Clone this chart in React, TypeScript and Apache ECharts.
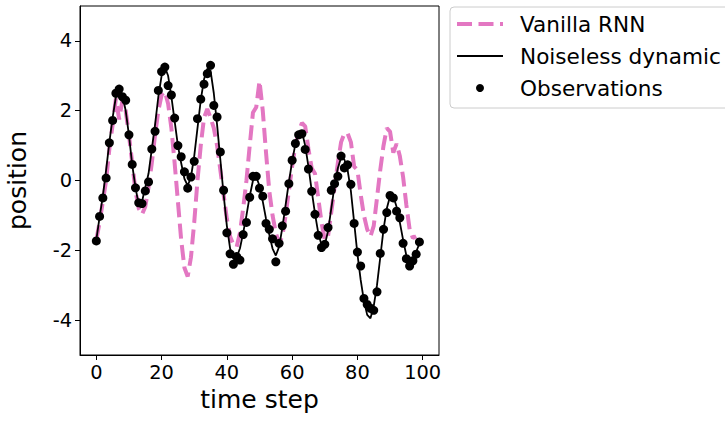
import React, { useEffect, useRef } from "react";
import * as echarts from "echarts";

const observations = [
  -1.73, -1.03, -0.5, 0.07, 1.08, 1.72, 2.5, 2.62, 2.4, 2.3,
  1.31, 0.46, -0.21, -0.64, -0.66, -0.3, -0.04, 0.9, 1.41, 2.58,
  3.12, 3.25, 2.72, 2.45, 1.79, 1.0, 0.68, 0.25, -0.22, 0.1,
  0.55, 1.77, 2.33, 2.76, 3.06, 3.3, 2.15, 1.82, 0.82, -0.28,
  -1.5, -2.1, -2.4, -2.18, -2.28, -1.55, -1.2, -0.48, 0.12, 0.12,
  -0.22, -0.45, -1.23, -1.4, -1.67, -2.33, -1.8, -1.3, -0.88, -0.09,
  0.58, 1.06, 1.31, 1.34, 0.89, 0.33, -0.31, -0.97, -1.57, -1.92,
  -1.83, -1.35, -0.28, -0.09, 0.12, 0.7, 0.36, 0.45, -0.11, -1.23,
  -2.05, -2.45, -3.38, -3.55, -3.66, -3.72, -3.19, -2.09, -1.4, -0.92,
  -0.43, -0.5, -0.88, -1.07, -1.8, -2.24, -2.45, -2.3, -2.11, -1.76,
];

const noiseless = [
  -1.7, -1.05, -0.45, 0.3, 1.1, 1.8, 2.4, 2.65, 2.45, 2.0,
  1.3, 0.45, -0.2, -0.7, -0.6, -0.2, 0.2, 0.9, 1.6, 2.4,
  3.0, 3.25, 3.0, 2.4, 1.7, 1.0, 0.5, 0.05, -0.15, 0.1,
  0.7, 1.5, 2.3, 2.9, 3.2, 3.15, 2.5, 1.6, 0.6, -0.4,
  -1.3, -1.95, -2.25, -2.2, -1.95, -1.5, -1.0, -0.45, 0.0, 0.1,
  -0.15, -0.6, -1.1, -1.55, -1.95, -2.15, -1.9, -1.35, -0.7, -0.05,
  0.55, 1.05, 1.35, 1.4, 1.0, 0.4, -0.3, -0.95, -1.5, -1.85,
  -1.85, -1.45, -0.8, -0.15, 0.35, 0.65, 0.6, 0.3, -0.3, -1.2,
  -2.1, -2.85, -3.45, -3.85, -3.95, -3.6, -3.0, -2.2, -1.4, -0.8,
  -0.45, -0.45, -0.75, -1.2, -1.7, -2.15, -2.35, -2.3, -2.05, -1.8,
];

const vanillaRnn = [
  -1.7, -1.2, -0.6, 0.0, 0.9, 1.6, 2.35, 1.75, 2.3, 2.0,
  1.3, 0.5, -0.3, -0.8, -0.97, -0.75, -0.2, 0.5, 1.3, 2.0,
  2.45, 2.55, 2.2, 1.5, 0.5, -0.6, -1.7, -2.5, -2.75, -2.2,
  -1.2, 0.0, 1.0, 1.8, 2.05, 1.8, 1.5, 1.0, 0.3, -0.4,
  -1.1, -1.6, -1.85, -1.9, -1.5, -0.8, 0.0, 1.0, 1.95, 2.1,
  2.85, 2.0, 0.8, -0.3, -1.0, -1.5, -1.8, -1.6, -1.0, -0.3,
  0.4, 1.0, 1.4, 1.65, 1.55, 0.9, 0.35, 0.2, -0.5, -1.2,
  -1.7, -1.6, -0.9, -0.2, 0.5, 1.1, 1.35, 1.35, 1.1, 0.4,
  0.3, -0.4, -1.0, -1.4, -1.6, -1.3, -0.5, 0.3, 1.0, 1.5,
  1.4, 0.8, 1.05, 0.7, 0.1, -0.7, -1.4, -1.65, -1.6,
];

const xTicks = [0, 20, 40, 60, 80, 100];
const yTicks = [-4, -2, 0, 2, 4];
const legendNames = ["Vanilla RNN", "Noiseless dynamic", "Observations"];

const FONT = "DejaVu Sans";
const PINK = "#e377c2";

export default function App() {
  const ref = useRef<HTMLDivElement>(null);
  useEffect(() => {
    if (!ref.current) return;
    const chart = echarts.init(ref.current, null, { renderer: "svg" });
    const pair = (arr: number[]) => arr.map((v, i) => [i, v]);
    const legendRowY = [24, 56, 88];
    chart.setOption({
      animation: false,
      backgroundColor: "#fff",
      textStyle: { fontFamily: FONT },
      grid: {
        left: 80,
        top: 6,
        right: 286,
        bottom: 66,
        show: true,
        borderColor: "#000",
        borderWidth: 1,
        containLabel: false,
      },
      xAxis: {
        type: "value",
        min: -5,
        max: 105,
        name: "time step",
        nameLocation: "middle",
        nameGap: 27,
        nameTextStyle: { fontSize: 25, color: "#000", fontFamily: FONT },
        axisLine: { show: true, onZero: false, lineStyle: { color: "#000", width: 1 } },
        axisTick: { show: true, length: 5, lineStyle: { color: "#000" }, customValues: xTicks },
        axisLabel: { fontSize: 19.4, color: "#000", margin: 8, fontFamily: FONT, customValues: xTicks },
        splitLine: { show: false },
      },
      yAxis: {
        type: "value",
        min: -5,
        max: 5,
        name: "position",
        nameLocation: "middle",
        nameGap: 50,
        nameTextStyle: { fontSize: 25, color: "#000", fontFamily: FONT },
        axisLine: { show: true, onZero: false, lineStyle: { color: "#000", width: 1 } },
        axisTick: { show: true, length: 5, lineStyle: { color: "#000" }, customValues: yTicks },
        axisLabel: { fontSize: 19.4, color: "#000", margin: 8, fontFamily: FONT, customValues: yTicks },
        splitLine: { show: false },
      },
      series: [
        {
          name: legendNames[0],
          type: "line",
          data: pair(vanillaRnn),
          symbol: "none",
          z: 1,
          lineStyle: { color: PINK, width: 4, type: [15, 6.5], cap: "butt" },
        },
        {
          name: legendNames[1],
          type: "line",
          data: pair(noiseless),
          symbol: "none",
          z: 2,
          lineStyle: { color: "#000", width: 1.8 },
        },
        {
          name: legendNames[2],
          type: "scatter",
          data: pair(observations),
          symbolSize: 9,
          z: 3,
          itemStyle: { color: "#000", opacity: 1 },
        },
      ],
      graphic: [
        {
          type: "rect",
          shape: { x: 450, y: 7, width: 300, height: 101, r: 4 },
          style: { fill: "#fff", stroke: "#cccccc", lineWidth: 1 },
          z: 10,
        },
        {
          type: "line",
          shape: { x1: 457, y1: legendRowY[0], x2: 503, y2: legendRowY[0] },
          style: { stroke: PINK, lineWidth: 4, lineDash: [15, 6.5], lineCap: "butt" },
          z: 11,
        },
        {
          type: "line",
          shape: { x1: 457, y1: legendRowY[1], x2: 503, y2: legendRowY[1] },
          style: { stroke: "#000", lineWidth: 1.8 },
          z: 11,
        },
        {
          type: "circle",
          shape: { cx: 480, cy: legendRowY[2], r: 4 },
          style: { fill: "#000" },
          z: 11,
        },
        ...legendNames.map((n, i) => ({
          type: "text",
          x: 520,
          y: legendRowY[i],
          style: {
            text: n,
            fill: "#000",
            fontSize: 21.6,
            fontFamily: FONT,
            textVerticalAlign: "middle",
            textAlign: "left",
          },
          z: 11,
        })),
      ],
    });
    return () => chart.dispose();
  }, []);
  return (
    <div
      ref={ref}
      style={{ position: "fixed", left: 0, top: 0, width: 725, height: 421 }}
    />
  );
}
